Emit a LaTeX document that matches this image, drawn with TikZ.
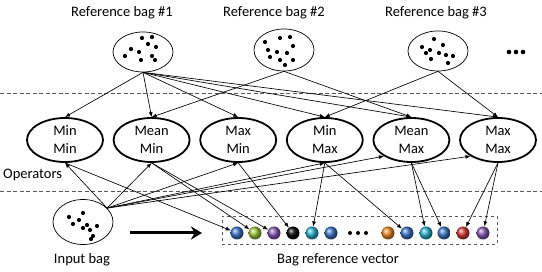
\documentclass[tikz,border=0pt]{standalone}
\usepackage{fontspec}
\setmainfont{Carlito}
\usepackage{xcolor}
\usepackage{tikz}
\usetikzlibrary{shapes.geometric,arrows.meta}
\definecolor{vecblue}{HTML}{3B74C9}
\definecolor{vecgreen}{HTML}{9BC83A}
\definecolor{vecpurple}{HTML}{8559B5}
\definecolor{veccyan}{HTML}{27B3D3}
\definecolor{vecorange}{HTML}{F08A24}
\definecolor{vecred}{HTML}{D43838}

\begin{document}
\begin{tikzpicture}[
    x=1pt,
    y=-1pt,
    every path/.style={line join=round},
    lbl/.style={font=\fontsize{14.5}{18}\selectfont,inner sep=0pt},
    bag/.style={draw,ellipse,line width=0.7pt,minimum width=60pt,minimum height=40pt},
    op/.style={draw,ellipse,line width=1.8pt,minimum width=76pt,minimum height=44pt,
      inner sep=-2pt,align=center,font=\fontsize{14.5}{18}\selectfont},
    link/.style={-{Latex[length=5pt,width=4pt]},line width=0.65pt},
    vball/.style={circle,inner sep=0pt,minimum size=13pt,ball color=#1},
    sep/.style={dash pattern=on 4pt off 2.5pt,draw=black!65,line width=0.8pt}
  ]
    \useasboundingbox (0,0) rectangle (542,272);

    % Layer separators.
    \draw[sep] (0,93) -- (542,93);
    \draw[sep] (0,191) -- (542,191);

    % Reference bags with their points.
    \node[lbl] (ref1lbl) at (122,13) {Reference bag \#1};
    \node[lbl] (ref2lbl) at (274,13) {Reference bag \#2};
    \node[lbl] (ref3lbl) at (436,13) {Reference bag \#3};
    \node[bag] (ref1) at (143,52) {};
    \node[bag,minimum height=42pt] (ref2) at (284,50) {};
    \node[bag] (ref3) at (438,51) {};
    \foreach \dx/\dy in {-1/-14,9/-15,5/-8,13/-5,-12/-3,-4/0,-18/4,-2/8,9/4,12/8}{%
      \fill ([shift={(\dx,\dy)}]ref1.center) circle [radius=2.1pt];
    }
    \foreach \dx/\dy in {-19/-8,-4/-12,6/-13,9/-4,-16/0,-7/2,3/3,-14/7,-4/10,9/10,1/15}{%
      \fill ([shift={(\dx,\dy)}]ref2.center) circle [radius=2.1pt];
    }
    \foreach \dx/\dy in {-4/-12,5/-6,-16/-4,-8/-1,-12/2,1/2,8/4,15/5,-7/8,10/12}{%
      \fill ([shift={(\dx,\dy)}]ref3.center) circle [radius=2.1pt];
    }
    \foreach \x in {509,516,523}{%
      \fill (\x,52) circle [radius=2.3pt];
    }

    % Operators.
    \foreach \name/\up/\down [count=\k from 0] in
      {minmin/Min/Min,meanmin/Mean/Min,maxmin/Max/Min,
       minmax/Min/Max,meanmax/Mean/Max,maxmax/Max/Max}{%
      \node[op] (\name) at ({65+86.6*\k},140) {\up\\\down};
    }
    \node[lbl,anchor=west] (oplbl) at (3,175) {Operators};

    \foreach \t in {minmin,meanmin,maxmin,minmax,meanmax,maxmax}{%
      \draw[link] (ref1.south) -- (\t.north);
    }
    \draw[link] (ref2.south) -- (meanmin.north);
    \draw[link] (ref2.south) -- (meanmax.north);
    \draw[link] (ref3.south) -- (minmax.north);
    \draw[link] (ref3.south) -- (maxmax.north);

    % Input bag.
    \node[bag,minimum height=45pt] (inbag) at (83,222) {};
    \node[lbl] (inlbl) at (82,260) {Input bag};
    \foreach \dx/\dy in {0/-9,-14/-5,-4/-2,4/3,-10/2,0/6,7/8,14/4,10/14,8/17}{%
      \fill ([shift={(\dx,\dy)}]inbag.center) circle [radius=2.1pt];
    }
    \foreach \t in {minmin,meanmin,maxmin,minmax}{%
      \draw[link] (inbag.30) -- (\t.south);
    }
    \draw[link] (inbag.30) -- (meanmax.south west);
    \draw[link] (inbag.30) -- (maxmax.south west);

    % Bag reference vector.
    \coordinate (bigfrom) at (130,233);
    \coordinate (bigto) at (202,233);
    \draw[-{Stealth[length=11pt,width=13pt]},line width=3pt] (bigfrom) -- (bigto);
    \node[draw,dashed,draw=black!65,line width=0.8pt,minimum width=275pt,minimum height=28pt]
      (vec) at (359.5,230) {};
    \node[lbl] (veclbl) at (338,260) {Bag reference vector};
    \foreach \c/\x [count=\k] in {vecblue/237,vecgreen/255,vecpurple/274,black/293,
      veccyan/312,vecblue/331,vecorange/388,vecblue/407,veccyan/426,vecblue/444,
      vecred/463,vecpurple/483}{%
      \node[vball=\c] (b\k) at (\x,233) {};
    }
    \foreach \x in {350,358,366}{%
      \fill (\x,233) circle [radius=2pt];
    }

    \draw[link] (minmin.south) -- (b1);
    \draw[link] (meanmin.south) -- (b2);
    \draw[link] (meanmin.south) -- (b3);
    \draw[link] (maxmin.south) -- (b4);
    \draw[link] (minmax.south) -- (b5);
    \draw[link] (minmax.south) -- (b8);
    \draw[link] (meanmax.south) -- (b9);
    \draw[link] (meanmax.south) -- (b10);
    \draw[link] (maxmax.south) -- (b11);
    \draw[link] (maxmax.south) -- (b12);
  \end{tikzpicture}
\end{document}
